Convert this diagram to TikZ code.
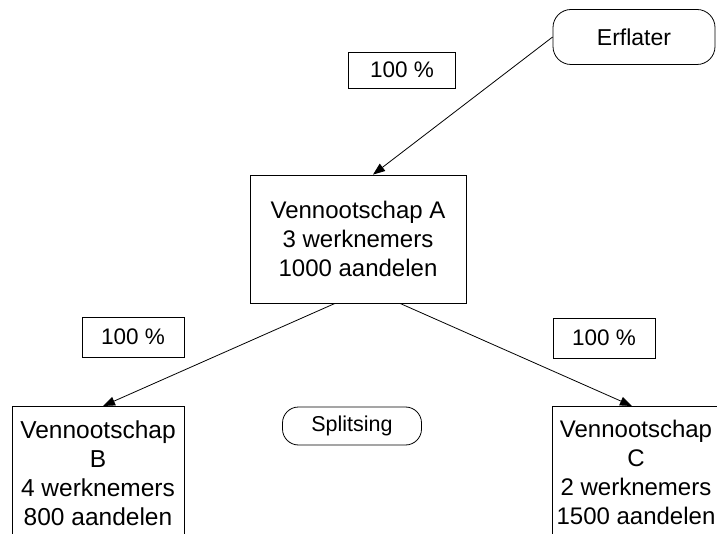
\documentclass[tikz,border=0pt]{standalone}
\usepackage{fontspec}
\setmainfont{Liberation Sans}
\usetikzlibrary{arrows.meta,positioning,calc}

\begin{document}
\begin{tikzpicture}[x=1pt,y=-1pt]
	\tikzstyle{every node}=[font=\fontsize{24}{29}\selectfont]
	\tikzstyle{firm}=[draw, line width=0.8pt, align=center, inner xsep=0pt, inner ysep=14pt]
	\tikzstyle{pct}=[draw, line width=0.8pt, minimum width=102pt, minimum height=40pt, inner sep=0pt, font=\fontsize{22.5}{27}\selectfont]
	\tikzstyle{oval}=[draw, line width=0.8pt, rounded corners=18pt, inner sep=0pt]
	\tikzstyle{own}=[line width=0.8pt, -{Triangle[length=12pt,width=9pt]}]
	\useasboundingbox (0,0) rectangle (717,534);
	\clip (0,0) rectangle (717,534);
	% owners and companies
	\node [oval, minimum width=162pt, minimum height=55pt, font=\fontsize{23}{27}\selectfont] (erflater) at (634,37) {Erflater};
	\node [firm, minimum width=216pt, minimum height=128pt] (A) at (358,239) {Vennootschap A\\3 werknemers\\1000 aandelen};
	\node [firm, anchor=north, minimum width=172pt, font=\fontsize{24.5}{29}\selectfont] (B) at (98,406) {Vennootschap\\B\\4 werknemers\\800 aandelen};
	\node [firm, anchor=north, minimum width=174pt] (C) at (639,406) {\hspace*{-6pt}Vennootschap\\\hspace*{-6pt}C\\\hspace*{-6pt}2 werknemers\\\hspace*{-6pt}1500 aandelen};
	\node [oval, rounded corners=16pt, minimum width=139pt, minimum height=38pt, font=\fontsize{21.5}{25}\selectfont] (split) at (352,426) {Splitsing};
	% shares
	\node [pct, minimum width=107pt, minimum height=36pt] (pctA) at (402,70) {100 \%};
	\node [pct] (pctB) at (133,337) {100 \%};
	\node [pct] (pctC) at (604,338) {100 \%};
	\draw [own] (erflater.west) -- ([xshift=15pt]A.north);
	\draw [own] ([xshift=-23pt]A.south) -- ([xshift=5pt]B.north);
	\draw [own] ([xshift=42pt]A.south) -- ([xshift=-7pt]C.north);
\end{tikzpicture}
\end{document}
